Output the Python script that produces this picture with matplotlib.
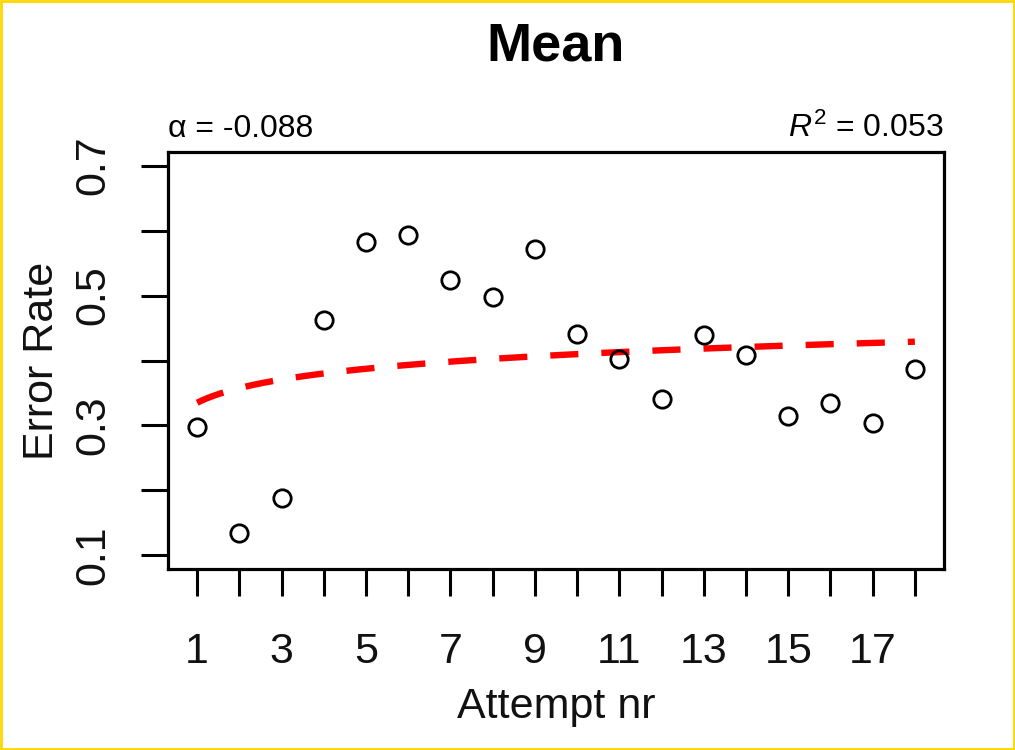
import numpy as np
import matplotlib
matplotlib.use("Agg")
import matplotlib.pyplot as plt
from matplotlib.patches import Rectangle

plt.rcParams['font.family'] = ['Liberation Sans', 'DejaVu Sans']
plt.rcParams['mathtext.fontset'] = 'custom'
plt.rcParams['mathtext.rm'] = 'Liberation Sans'
plt.rcParams['mathtext.it'] = 'Liberation Sans:italic'
plt.rcParams['mathtext.bf'] = 'Liberation Sans:bold'

# Data
attempts = list(range(1, 19))
error_rate = [0.297, 0.135, 0.188, 0.463, 0.583, 0.593, 0.524, 0.498, 0.572,
              0.441, 0.403, 0.340, 0.440, 0.408, 0.314, 0.335, 0.304, 0.387]
fit_intercept = 0.335   # log fit: intercept + slope * ln(x)
fit_slope = 0.0325
xtick_labels = ['1', '3', '5', '7', '9', '11', '13', '15', '17']
ytick_values = [0.1, 0.2, 0.3, 0.4, 0.5, 0.6, 0.7]
ytick_labels = ['0.1', '', '0.3', '', '0.5', '', '0.7']
title = 'Mean'
alpha_text = 'α = -0.088'
r2_text = r'$\mathit{R}^{2}$ = 0.053'

W, H = 1015, 750
fig = plt.figure(figsize=(W / 100, H / 100), dpi=100)
fig.patch.set_facecolor('white')
ax = fig.add_axes([168 / W, 1 - 569 / H, (944 - 168) / W, (569 - 152) / H])

ax.plot(attempts, error_rate, linestyle='none', marker='o', markersize=12.5,
        markerfacecolor='none', markeredgecolor='black', markeredgewidth=2.0,
        zorder=3)

xf = np.linspace(1, 18, 400)
ax.plot(xf, fit_intercept + fit_slope * np.log(xf), color='#FF0000',
        linewidth=4.6, linestyle=(0, (4.4, 3.6)), dash_capstyle='butt',
        solid_capstyle='butt', zorder=2)

ax.set_xlim(0.31, 18.69)
ax.set_ylim(0.079, 0.721)

ax.set_xticks(attempts)
ax.set_xticklabels([xtick_labels[(a - 1) // 2] if a % 2 == 1 else '' for a in attempts])
ax.set_yticks(ytick_values)
ax.set_yticklabels(ytick_labels, rotation=90, va='center')

ax.tick_params(axis='both', direction='out', length=19.5, width=2.2,
               labelsize=31, color='black', labelcolor='#111111')
ax.tick_params(axis='x', pad=26)
ax.tick_params(axis='y', pad=20)

for sp in ax.spines.values():
    sp.set_linewidth(2.3)
    sp.set_color('black')

ax.set_xlabel('Attempt nr', fontsize=31, labelpad=11, color='#111111')
ax.set_ylabel('Error Rate', fontsize=31, labelpad=8, color='#111111')
ax.set_title(title, fontsize=39, fontweight='bold', pad=66)

ax.text(0.0, 1.02, alpha_text, transform=ax.transAxes, fontsize=23,
        ha='left', va='bottom')
ax.text(1.0, 1.02, r2_text, transform=ax.transAxes, fontsize=23,
        ha='right', va='bottom')

fig.add_artist(Rectangle((0.001, 0.0015), 0.998, 0.997, transform=fig.transFigure,
                         fill=False, edgecolor='#FFD700', linewidth=2.0))

fig.savefig('out.png', dpi=100)
